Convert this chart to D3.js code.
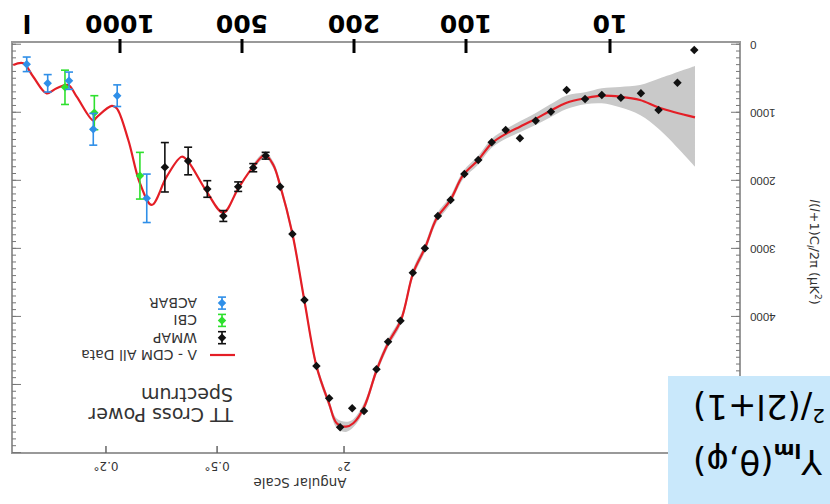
<!DOCTYPE html>
<html>
<head>
<meta charset="utf-8">
<script src="https://cdn.jsdelivr.net/npm/d3@7"></script>
<style>
body { margin: 0; background: #fff; }
svg { display: block; }
</style>
</head>
<body>
<div id="chart"></div>
<script>
// WMAP points (multipole l, l(l+1)Cl/2pi in uK^2, error)
var wmapL = [2.6, 3.4, 4.6, 6.1, 8.4, 11.4, 14.9, 20.0, 25.7, 32.8, 42.2, 53.0, 66.3, 82.2, 101, 110, 119, 129, 139, 150, 162, 174, 188, 203, 224, 245, 272, 300, 331, 366, 412, 456, 511, 556, 609, 679, 775];
var wmapPower = [78, 558, 959, 714, 779, 739, 798, 665, 984, 1117, 1375, 1253, 1434, 1694, 1900, 2282, 2517, 2992, 3350, 4056, 4364, 4770, 5383, 5343, 5622, 5196, 4721, 3751, 2781, 2086, 1631, 1807, 2086, 2517, 2120, 1709, 1801];
var wmapErr = [0, 0, 0, 0, 0, 0, 0, 0, 0, 0, 0, 0, 0, 0, 0, 0, 0, 0, 0, 0, 0, 0, 0, 0, 0, 0, 0, 0, 0, 0, 50, 60, 70, 80, 122, 203, 363];

var cbiL = [893, 1157, 1367];
var cbiPower = [1925, 999, 626];
var cbiErr = [343, 250, 252];

var acbarL = [859, 1016, 1164, 1336, 1508, 1699];
var acbarPower = [2257, 749, 1243, 529, 567, 288];
var acbarErr = [356, 159, 233, 127, 128, 107];

// Lambda-CDM best fit curve
var modelL = [2.57, 4.5, 6.19, 8.53, 11.4, 14.9, 20, 26.1, 33.2, 42.2, 52.1, 66.3, 82.2, 101.7, 110.4, 119.9, 128.9, 138.6, 149.5, 161.8, 173.8, 187.7, 201.2, 213.5, 230.4, 245.4, 271.5, 300.4, 331.3, 366.4, 387, 414, 456, 510.7, 556, 611, 678.5, 704, 767, 835, 893, 954, 1019, 1048, 1142, 1164, 1279, 1342, 1433, 1517, 1637, 1732, 1834];
var modelPower = [1067, 930, 812, 764, 749, 787, 852, 974, 1096, 1205, 1302, 1449, 1694, 1914, 2292, 2551, 2987, 3350, 4045, 4383, 4780, 5319, 5563, 5613, 5563, 5269, 4732, 3751, 2771, 2061, 1767, 1621, 1792, 2110, 2468, 2160, 1719, 1646, 1939, 2355, 2036, 1400, 934, 900, 1067, 1116, 764, 592, 640, 714, 470, 273, 298];

// cosmic variance band, same l as the first model points
var bandLo = [313, 493, 592, 620, 640, 700, 745, 880, 1010, 1125, 1230, 1380, 1630, 1855, 2232, 2491, 2927, 3290, 3985, 4323, 4720, 5259, 5503, 5540, 5493, 5209, 4672, 3691, 2711, 2001, 1717, 1576, 1752];
var bandHi = [1792, 1253, 1033, 920, 861, 875, 945, 1070, 1185, 1285, 1375, 1515, 1760, 1975, 2352, 2611, 3047, 3410, 4105, 4443, 4840, 5379, 5623, 5690, 5633, 5329, 4792, 3811, 2831, 2121, 1817, 1666, 1832];

// axes
var lTicks = [10, 100, 200, 500, 1000];
var powerTicks = [0, 1000, 2000, 3000, 4000, 5000, 6000];
var powerLabels = [0, 1000, 2000, 3000, 4000];
var angleLabels = ["2°", "0.5°", "0.2°"];
var angleL = [217, 576, 1083];

var legendNames = ["\u039B - CDM All Data", "WMAP", "CBI", "ACBAR"];
var legendColors = ["#e41e26", "#111", "#2ee02e", "#2f8fe8"];

var width = 830, height = 504;
var plot = {left: 90, right: 818, top: 51, bottom: 462};

var x = d3.scaleLog()
  .domain(lTicks)
  .range([220, 364, 476, 588, 710]);

var y = d3.scaleLinear()
  .domain([-40, 6000])
  .range([plot.bottom, plot.top]);

var svg = d3.select("#chart")
  .append("svg")
  .attr("width", width)
  .attr("height", height);

svg.append("rect")
  .attr("width", width)
  .attr("height", height)
  .attr("fill", "#fff");

// the whole figure is shown upside down
var g = svg.append("g")
  .attr("transform", "rotate(180 415 252)");

// cosmic variance band
var band = d3.area()
  .x(function(d) { return x(d.l); })
  .y0(function(d) { return y(d.lo); })
  .y1(function(d) { return y(d.hi); })
  .curve(d3.curveCatmullRom);

g.append("path")
  .datum(bandLo.map(function(lo, i) { return {l: modelL[i], lo: lo, hi: bandHi[i]}; }))
  .attr("d", band)
  .attr("fill", "#c9c9c9");

// frame
g.append("rect")
  .attr("x", plot.left)
  .attr("y", plot.top)
  .attr("width", plot.right - plot.left)
  .attr("height", plot.bottom - plot.top)
  .attr("fill", "none")
  .attr("stroke", "#999")
  .attr("stroke-width", 2);

// y ticks, inside on both sides
var minor = d3.range(0, 6000, 100);
function yTicks(axis, xpos, size, values) {
  g.append("g")
    .attr("transform", "translate(" + xpos + ",0)")
    .call(axis(y).tickValues(values).tickSize(size).tickFormat(""))
    .call(function(s) { s.select(".domain").remove(); s.selectAll("line").attr("stroke", "#777"); });
}
yTicks(d3.axisRight, plot.left, 4, minor);
yTicks(d3.axisRight, plot.left, 9, powerTicks);
yTicks(d3.axisLeft, plot.right, 4, minor);
yTicks(d3.axisLeft, plot.right, 9, powerTicks);

g.append("g")
  .attr("transform", "translate(" + plot.left + ",0)")
  .call(d3.axisLeft(y).tickValues(powerLabels).tickSize(0).tickPadding(10).tickFormat(d3.format("d")))
  .call(function(s) {
    s.select(".domain").remove();
    s.selectAll("text").attr("font-family", "Liberation Sans, Arial, sans-serif")
      .attr("font-size", 11.5).attr("fill", "#333");
  });

g.append("text")
  .attr("transform", "translate(20,252) rotate(-90)")
  .attr("text-anchor", "middle")
  .attr("font-family", "DejaVu Sans, sans-serif")
  .attr("font-size", 13)
  .attr("fill", "#333")
  .call(function(t) {
    t.append("tspan").attr("font-style", "italic").text("l");
    t.append("tspan").text("(");
    t.append("tspan").attr("font-style", "italic").text("l");
    t.append("tspan").text("+1)C");
    t.append("tspan").attr("font-size", 9).attr("dy", 3).attr("font-style", "italic").text("l");
    t.append("tspan").attr("dy", -3).text("/2\u03C0 (\u03BCK");
    t.append("tspan").attr("font-size", 9).attr("dy", -5).text("2");
    t.append("tspan").attr("dy", 5).text(")");
  });

// multipole ticks and labels (bold)
g.selectAll(".ltick")
  .data(lTicks)
  .join("line")
  .attr("class", "ltick")
  .attr("x1", function(d) { return x(d); })
  .attr("x2", function(d) { return x(d); })
  .attr("y1", plot.bottom - 11)
  .attr("y2", plot.bottom + 3)
  .attr("stroke", "#000")
  .attr("stroke-width", 3);

g.selectAll(".llabel")
  .data(lTicks)
  .join("text")
  .attr("class", "llabel")
  .attr("x", function(d) { return x(d); })
  .attr("y", 489)
  .attr("text-anchor", "middle")
  .attr("font-family", "DejaVu Sans, sans-serif")
  .attr("font-weight", "bold")
  .attr("font-size", 25)
  .text(function(d) { return d; });

g.append("text")
  .attr("x", plot.right - 15)
  .attr("y", 489)
  .attr("text-anchor", "middle")
  .attr("font-family", "DejaVu Sans, sans-serif")
  .attr("font-weight", "bold")
  .attr("font-size", 25)
  .text("l");

// angular scale on top
g.selectAll(".atick")
  .data(angleL)
  .join("line")
  .attr("class", "atick")
  .attr("x1", function(d) { return x(d); })
  .attr("x2", function(d) { return x(d); })
  .attr("y1", plot.top)
  .attr("y2", plot.top + 7)
  .attr("stroke", "#666")
  .attr("stroke-width", 1.5);

g.selectAll(".alabel")
  .data(angleL)
  .join("text")
  .attr("class", "alabel")
  .attr("x", function(d) { return x(d); })
  .attr("y", 42)
  .attr("text-anchor", "middle")
  .attr("font-family", "DejaVu Sans, sans-serif")
  .attr("font-size", 12)
  .attr("fill", "#333")
  .text(function(d, i) { return angleLabels[i]; });

g.append("text")
  .attr("x", 530)
  .attr("y", 26)
  .attr("text-anchor", "middle")
  .attr("font-family", "DejaVu Sans, sans-serif")
  .attr("font-size", 13.5)
  .attr("fill", "#333")
  .text("Angular Scale");

// model line
var line = d3.line()
  .x(function(d, i) { return x(modelL[i]); })
  .y(function(d) { return y(d); })
  .curve(d3.curveCatmullRom);

g.append("path")
  .datum(modelPower)
  .attr("d", line)
  .attr("fill", "none")
  .attr("stroke", legendColors[0])
  .attr("stroke-width", 2.2);

// points with error bars
var diamond = d3.symbol().type(d3.symbolSquare).size(36);

function errorPoint(sel, cx, cy, top, bottom, color) {
  if (bottom - top > 0.5) {
    sel.append("line").attr("x1", cx).attr("x2", cx).attr("y1", top).attr("y2", bottom)
      .attr("stroke", color).attr("stroke-width", 1.6);
    [top, bottom].forEach(function(v) {
      sel.append("line").attr("x1", cx - 4).attr("x2", cx + 4).attr("y1", v).attr("y2", v)
        .attr("stroke", color).attr("stroke-width", 1.6);
    });
  }
  sel.append("path")
    .attr("d", diamond)
    .attr("transform", "translate(" + cx + "," + cy + ") rotate(45)")
    .attr("fill", color);
}

function drawSeries(Ls, Ps, Es, color) {
  var s = g.append("g");
  Ls.forEach(function(l, i) {
    errorPoint(s, x(l), y(Ps[i]), y(Ps[i] + Es[i]), y(Ps[i] - Es[i]), color);
  });
}

drawSeries(wmapL, wmapPower, wmapErr, legendColors[1]);
drawSeries(cbiL, cbiPower, cbiErr, legendColors[2]);
drawSeries(acbarL, acbarPower, acbarErr, legendColors[3]);

// title and legend
var title = g.append("text")
  .attr("font-family", "DejaVu Sans, sans-serif")
  .attr("font-size", 19)
  .attr("fill", "#333");
title.append("tspan").attr("x", 597).attr("y", 96).text("TT Cross Power");
title.append("tspan").attr("x", 597).attr("y", 116).text("Spectrum");

var legend = g.append("g").attr("transform", "translate(608,149)");
legendNames.forEach(function(name, i) {
  var row = legend.append("g").attr("transform", "translate(0," + (i * 17.3) + ")");
  if (i === 0) {
    row.append("line").attr("x1", -13).attr("x2", 12).attr("y1", 0).attr("y2", 0)
      .attr("stroke", legendColors[0]).attr("stroke-width", 2.2);
  } else {
    errorPoint(row, 0, 0, -6, 6, legendColors[i]);
  }
  row.append("text")
    .attr("x", 25)
    .attr("y", 5)
    .attr("font-family", "DejaVu Sans, sans-serif")
    .attr("font-size", 14)
    .attr("fill", "#333")
    .text(name);
});

// blue formula box in the corner
var box = g.append("g");
box.append("rect")
  .attr("width", 162)
  .attr("height", 128)
  .attr("fill", "#c9e8fb");

var f1 = box.append("text")
  .attr("x", 137).attr("y", 54)
  .attr("text-anchor", "end")
  .attr("font-family", "DejaVu Sans, sans-serif")
  .attr("font-size", 34);
f1.append("tspan").text("Y");
f1.append("tspan").attr("font-size", 20).attr("font-weight", "bold").attr("dy", 6).text("lm");
f1.append("tspan").attr("dy", -6).text("(\u03B8,\u03C6)");

var f2 = box.append("text")
  .attr("x", 137).attr("y", 109)
  .attr("text-anchor", "end")
  .attr("font-family", "DejaVu Sans, sans-serif")
  .attr("font-size", 34);
f2.append("tspan").attr("font-size", 20).attr("dy", -14).text("2");
f2.append("tspan").attr("dy", 14).text("/(2l+1)");
</script>
</body>
</html>
